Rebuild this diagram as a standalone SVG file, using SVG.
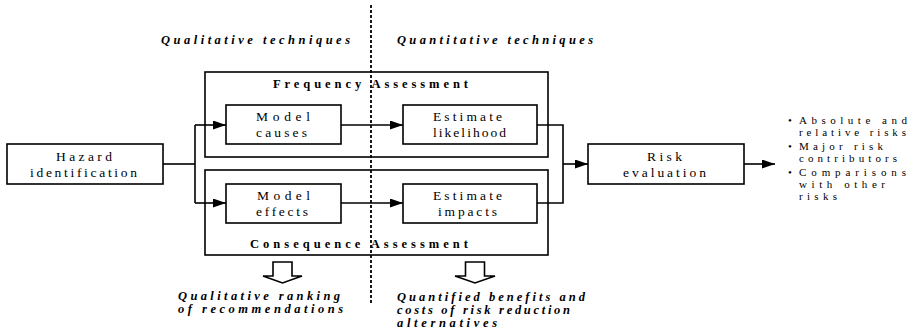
<svg xmlns="http://www.w3.org/2000/svg" width="914" height="335" viewBox="0 0 914 335">
<style>
.box{fill:#fff;stroke:#000;stroke-width:1.6}
.frame{fill:none;stroke:#000;stroke-width:1.6}
.lbl{font-family:"Liberation Serif","Times New Roman",serif;font-size:13.5px;fill:#000}
.ttl{font-family:"Liberation Serif","Times New Roman",serif;font-size:12.5px;font-weight:bold;fill:#000}
.it{font-family:"Liberation Serif","Times New Roman",serif;font-size:12.5px;font-style:italic;font-weight:bold;fill:#000}
.bl{font-family:"Liberation Serif","Times New Roman",serif;font-size:11px;fill:#000}
.ln{fill:none;stroke:#000;stroke-width:1.6}
.hollow{fill:#fff;stroke:#000;stroke-width:1.6;stroke-linejoin:miter}
</style>
<defs>
<marker id="ah" markerWidth="13" markerHeight="9" refX="13" refY="4.5" orient="auto" markerUnits="userSpaceOnUse">
<path d="M0,0 L13,4.5 L0,9 Z" fill="#000"/>
</marker>
</defs>
<rect width="914" height="335" fill="#fff"/>

<g id="headers">
<text class="it" x="161" y="44" textLength="189" lengthAdjust="spacing">Qualitative techniques</text>
<text class="it" x="397" y="44" textLength="196" lengthAdjust="spacing">Quantitative techniques</text>
</g>

<g id="frequency-assessment">
<rect class="frame" x="205" y="72" width="343" height="85"/>
<text class="ttl" x="273" y="88" textLength="195" lengthAdjust="spacing">Frequency Assessment</text>
</g>

<g id="consequence-assessment">
<rect class="frame" x="205" y="170" width="343" height="85"/>
<text class="ttl" x="250" y="248" textLength="218" lengthAdjust="spacing">Consequence Assessment</text>
</g>

<g id="connectors">
<polyline class="ln" points="163,164 195,164"/>
<polyline class="ln" points="195,125 195,203"/>
<line class="ln" x1="195" y1="125" x2="226" y2="125" marker-end="url(#ah)"/>
<line class="ln" x1="195" y1="203" x2="226" y2="203" marker-end="url(#ah)"/>
<line class="ln" x1="341" y1="125" x2="403" y2="125" marker-end="url(#ah)"/>
<line class="ln" x1="341" y1="203" x2="403" y2="203" marker-end="url(#ah)"/>
<polyline class="ln" points="537,125 563,125 563,203 537,203"/>
<line class="ln" x1="563" y1="164" x2="588" y2="164" marker-end="url(#ah)"/>
<line class="ln" x1="744" y1="164" x2="775" y2="164" marker-end="url(#ah)"/>
</g>

<g id="divider">
<line x1="371" y1="5" x2="371" y2="305" stroke="#000" stroke-width="1.8" stroke-dasharray="3 2"/>
</g>

<g id="hazard-identification">
<rect class="box" x="7" y="144" width="156" height="40"/>
<text class="lbl" x="56" y="161" textLength="56" lengthAdjust="spacing">Hazard</text>
<text class="lbl" x="30" y="177" textLength="107" lengthAdjust="spacing">identification</text>
</g>

<g id="model-causes">
<rect class="box" x="226" y="105" width="115" height="39"/>
<text class="lbl" x="256" y="121" textLength="54" lengthAdjust="spacing">Model</text>
<text class="lbl" x="256" y="137" textLength="51" lengthAdjust="spacing">causes</text>
</g>

<g id="estimate-likelihood">
<rect class="box" x="403" y="105" width="134" height="39"/>
<text class="lbl" x="433" y="121" textLength="69" lengthAdjust="spacing">Estimate</text>
<text class="lbl" x="433" y="137" textLength="73" lengthAdjust="spacing">likelihood</text>
</g>

<g id="model-effects">
<rect class="box" x="226" y="184" width="115" height="39"/>
<text class="lbl" x="257" y="200" textLength="53" lengthAdjust="spacing">Model</text>
<text class="lbl" x="256" y="216" textLength="52" lengthAdjust="spacing">effects</text>
</g>

<g id="estimate-impacts">
<rect class="box" x="403" y="184" width="134" height="39"/>
<text class="lbl" x="433" y="200" textLength="69" lengthAdjust="spacing">Estimate</text>
<text class="lbl" x="438" y="216" textLength="59" lengthAdjust="spacing">impacts</text>
</g>

<g id="risk-evaluation">
<rect class="box" x="588" y="144" width="156" height="40"/>
<text class="lbl" x="647" y="161" textLength="35" lengthAdjust="spacing">Risk</text>
<text class="lbl" x="623" y="177" textLength="83" lengthAdjust="spacing">evaluation</text>
</g>

<g id="outputs">
<text class="bl" x="788" y="124">•</text>
<text class="bl" x="799" y="124" textLength="108" lengthAdjust="spacing">Absolute and</text>
<text class="bl" x="799" y="136" textLength="107" lengthAdjust="spacing">relative risks</text>
<text class="bl" x="788" y="150">•</text>
<text class="bl" x="799" y="150" textLength="84" lengthAdjust="spacing">Major risk</text>
<text class="bl" x="799" y="162" textLength="98" lengthAdjust="spacing">contributors</text>
<text class="bl" x="788" y="176">•</text>
<text class="bl" x="799" y="176" textLength="107" lengthAdjust="spacing">Comparisons</text>
<text class="bl" x="799" y="188" textLength="86" lengthAdjust="spacing">with other</text>
<text class="bl" x="799" y="200" textLength="38" lengthAdjust="spacing">risks</text>
</g>

<g id="qualitative-result">
<polygon class="hollow" points="273,262 292,262 292,276 302,276 282.5,283 263,276 273,276"/>
<text class="it" x="178" y="300" textLength="162" lengthAdjust="spacing">Qualitative ranking</text>
<text class="it" x="178" y="313" textLength="165" lengthAdjust="spacing">of recommendations</text>
</g>

<g id="quantitative-result">
<polygon class="hollow" points="465.5,262 484.5,262 484.5,276 495,276 475,283 455,276 465.5,276"/>
<text class="it" x="397" y="301" textLength="188" lengthAdjust="spacing">Quantified benefits and</text>
<text class="it" x="397" y="314" textLength="173" lengthAdjust="spacing">costs of risk reduction</text>
<text class="it" x="397" y="327" textLength="100" lengthAdjust="spacing">alternatives</text>
</g>
</svg>
